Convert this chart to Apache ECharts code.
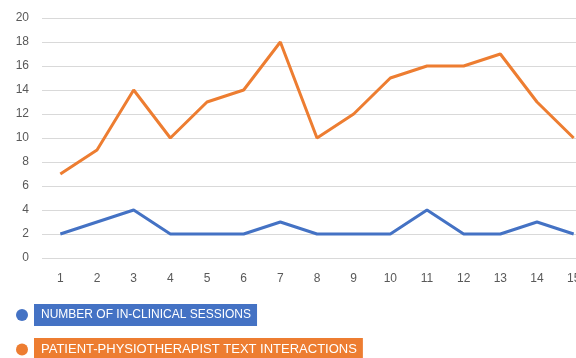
<!DOCTYPE html>
<html>
<head>
<meta charset="utf-8">
<script src="https://cdn.jsdelivr.net/npm/echarts@6/dist/echarts.min.js"></script>
<style>
  html, body { margin: 0; padding: 0; background: #fff; overflow: hidden; }
  #chart { width: 610px; height: 380px; }
</style>
</head>
<body>
<div id="chart"></div>
<script>
// 数据
const categories = ['1', '2', '3', '4', '5', '6', '7', '8', '9', '10', '11', '12', '13', '14', '15'];
const sessions = [2, 3, 4, 2, 2, 2, 3, 2, 2, 2, 4, 2, 2, 3, 2];
const textInteractions = [7, 9, 14, 10, 13, 14, 18, 10, 12, 15, 16, 16, 17, 13, 10];
const seriesNames = ['NUMBER OF IN-CLINICAL SESSIONS', 'PATIENT-PHYSIOTHERAPIST TEXT INTERACTIONS'];
const colors = ['#4472C4', '#ED7D31'];
const legendFontSizes = [12, 13];

// 图表初始化 (画布比窗口宽，右侧和底部被裁掉，与原图一致)
function initChart() {
    const chart = echarts.init(document.getElementById('chart'));
    chart.setOption({
        backgroundColor: '#fff',
        animation: false,
        grid: {
            left: 42,
            top: 18,
            width: 550,
            height: 240
        },
        legend: {
            orient: 'vertical',
            left: 11,
            top: 299,
            icon: 'circle',
            itemWidth: 14,
            itemHeight: 12,
            itemGap: 12,
            selectedMode: false,
            data: seriesNames.map((name, i) => ({
                name: name,
                textStyle: {
                    color: '#fff',
                    fontSize: legendFontSizes[i],
                    fontFamily: 'Liberation Sans',
                    backgroundColor: colors[i],
                    padding: [5, 6, 5, 7]
                }
            }))
        },
        xAxis: {
            type: 'category',
            data: categories,
            axisLine: { show: false },
            axisTick: { show: false },
            axisLabel: {
                color: '#595959',
                fontSize: 12,
                fontFamily: 'Liberation Sans',
                margin: 15
            }
        },
        yAxis: {
            type: 'value',
            min: 0,
            max: 20,
            interval: 2,
            axisLabel: {
                color: '#595959',
                fontSize: 12,
                fontFamily: 'Liberation Sans',
                margin: 13
            },
            splitLine: { lineStyle: { color: '#d9d9d9', width: 1 } }
        },
        series: [
            {
                name: seriesNames[0],
                type: 'line',
                data: sessions,
                symbol: 'none',
                color: colors[0],
                lineStyle: { width: 3, color: colors[0] }
            },
            {
                name: seriesNames[1],
                type: 'line',
                data: textInteractions,
                symbol: 'none',
                color: colors[1],
                lineStyle: { width: 3, color: colors[1] }
            }
        ]
    });
}

initChart();
</script>
</body>
</html>
